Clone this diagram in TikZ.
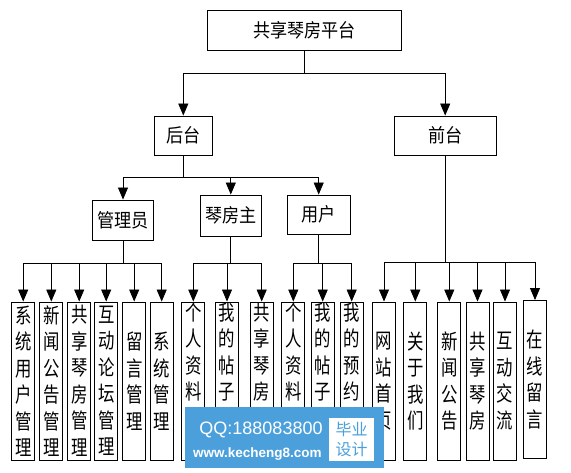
\documentclass[tikz,border=0pt]{standalone}
\usepackage{fontspec}
\setmainfont{Liberation Sans}
\newfontfamily\cjk[FakeStretch=0.9]{Noto Sans CJK SC}
\newfontfamily\cjkv[FakeStretch=0.78]{Noto Sans CJK SC}
\newfontfamily\cjkw{Noto Sans CJK SC}
\usetikzlibrary{arrows.meta}
\definecolor{wmblue}{RGB}{75,160,220}
\begin{document}
\begin{tikzpicture}[x=1pt,y=-1pt,
 box/.style={draw=black,line width=0.9pt,rectangle,inner sep=0pt},
 hbox/.style={box,font=\cjk\fontsize{19}{22}\selectfont},
 vbox/.style={box,minimum width=23pt,minimum height=158pt},
 vtxt/.style={inner sep=1pt,align=center,font=\cjkv\fontsize{21}{26.5}\selectfont},
 arr/.style={draw=black,line width=0.8pt,-{Triangle[width=10pt,length=12pt]}},
 ln/.style={draw=black,line width=0.8pt}]
\useasboundingbox (0,0) rectangle (571,473);
\fill[white] (0,0) rectangle (571,473);
% upper nodes
\node[hbox,minimum width=194.5pt,minimum height=40.7pt] (top) at (304.5,30.5) {共享琴房平台};
\node[hbox,minimum width=58pt,minimum height=39pt] (hou) at (183.3,135.5) {后台};
\node[hbox,minimum width=101.7pt,minimum height=39pt] (qian) at (445.2,135.5) {前台};
\node[hbox,minimum width=60.6pt,minimum height=40pt] (gly) at (123,220) {管理员};
\node[hbox,minimum width=61.7pt,minimum height=41pt] (qfz) at (230.8,215.5) {琴房主};
\node[hbox,minimum width=62.7pt,minimum height=39pt] (yh) at (318.7,214.5) {用户};
% lower boxes
\node[vbox] (a1) at (23.2,381) {};
\node[vbox] (a2) at (51.3,381) {};
\node[vbox] (a3) at (79.2,381) {};
\node[vbox] (a4) at (106.2,381) {};
\node[vbox] (a5) at (134.2,381) {};
\node[vbox] (a6) at (161.7,381) {};
\node[vbox] (b1) at (193.3,381) {};
\node[vbox] (b2) at (227,381) {};
\node[vbox] (b3) at (261.7,381) {};
\node[vbox] (c1) at (293.3,381) {};
\node[vbox] (c2) at (322.7,381) {};
\node[vbox] (c3) at (351.7,381) {};
\node[vbox] (d1) at (384,381) {};
\node[vbox] (d2) at (415.3,381) {};
\node[vbox] (d3) at (449.3,381) {};
\node[vbox] (d4) at (477.5,381) {};
\node[vbox] (d5) at (505,381) {};
\node[vbox] (d6) at (535,379.5) {};
% texts
\node[vtxt] (a1t) at (a1.center) {系\\统\\用\\户\\管\\理};
\node[vtxt] (a2t) at (a2.center) {新\\闻\\公\\告\\管\\理};
\node[vtxt] (a3t) at (a3.center) {共\\享\\琴\\房\\管\\理};
\node[vtxt] (a4t) at (a4.center) {互\\动\\论\\坛\\管\\理};
\node[vtxt] (a5t) at (a5.center) {留\\言\\管\\理};
\node[vtxt] (a6t) at (a6.center) {系\\统\\管\\理};
\node[vtxt,anchor=north] (b1t) at (b1.north) {个\\人\\资\\料};
\node[vtxt,anchor=north] (b2t) at (b2.north) {我\\的\\帖\\子};
\node[vtxt,anchor=north] (b3t) at (b3.north) {共\\享\\琴\\房};
\node[vtxt,anchor=north] (c1t) at (c1.north) {个\\人\\资\\料};
\node[vtxt,anchor=north] (c2t) at (c2.north) {我\\的\\帖\\子};
\node[vtxt,anchor=north] (c3t) at (c3.north) {我\\的\\预\\约};
\node[vtxt] (d1t) at (d1.center) {网\\站\\首\\页};
\node[vtxt] (d2t) at (d2.center) {关\\于\\我\\们};
\node[vtxt] (d3t) at (d3.center) {新\\闻\\公\\告};
\node[vtxt] (d4t) at (d4.center) {共\\享\\琴\\房};
\node[vtxt] (d5t) at (d5.center) {互\\动\\交\\流};
\node[vtxt] (d6t) at (d6.center) {在\\线\\留\\言};
% bus levels
\coordinate (bus0) at (0,73.3);
\coordinate (bus1) at (0,177.3);
\coordinate (bus2) at (0,263.3);
\coordinate (bus3) at (0,262.7);
% connectors
\foreach \n in {hou,qian} {\draw[arr] (top.south) |- (bus0 -| \n.north) -- (\n.north);}
\foreach \n in {gly,qfz,yh} {\draw[arr] (hou.south) |- (bus1 -| \n.north) -- (\n.north);}
\foreach \n in {a1,a2,a3,a4,a5,a6} {\draw[arr] (gly.south) |- (bus2 -| \n.north) -- (\n.north);}
\foreach \n in {b1,b2,b3} {\draw[arr] (qfz.south) |- (bus2 -| \n.north) -- (\n.north);}
\foreach \n in {c1,c2,c3} {\draw[arr] (yh.south) |- (bus2 -| \n.north) -- (\n.north);}
\foreach \n in {d1,d2,d3,d4,d5,d6} {\draw[arr] (qian.south) |- (bus3 -| \n.north) -- (\n.north);}
% watermark
\node[fill=wmblue,minimum width=199.3pt,minimum height=60.4pt,inner sep=0pt] (wm) at (284.65,437.5) {};
\node[fill=white,minimum width=45.3pt,minimum height=42.7pt,inner sep=0pt] (wmw) at (351.7,439.7) {};
\node[text=white,font=\fontsize{18}{20}\selectfont,inner sep=0pt] (wmqq) at (261,429.5) {QQ:188083800};
\node[text=white,font=\bfseries\fontsize{13.5}{15}\selectfont,inner sep=0pt] (wmurl) at (257.3,454.3) {www.kecheng8.com};
\node[text=wmblue,font=\cjkw\fontsize{16}{20}\selectfont,inner sep=0pt,align=center] (wmby) at (351.7,439.5) {毕业\\设计};
\end{tikzpicture}
\end{document}
